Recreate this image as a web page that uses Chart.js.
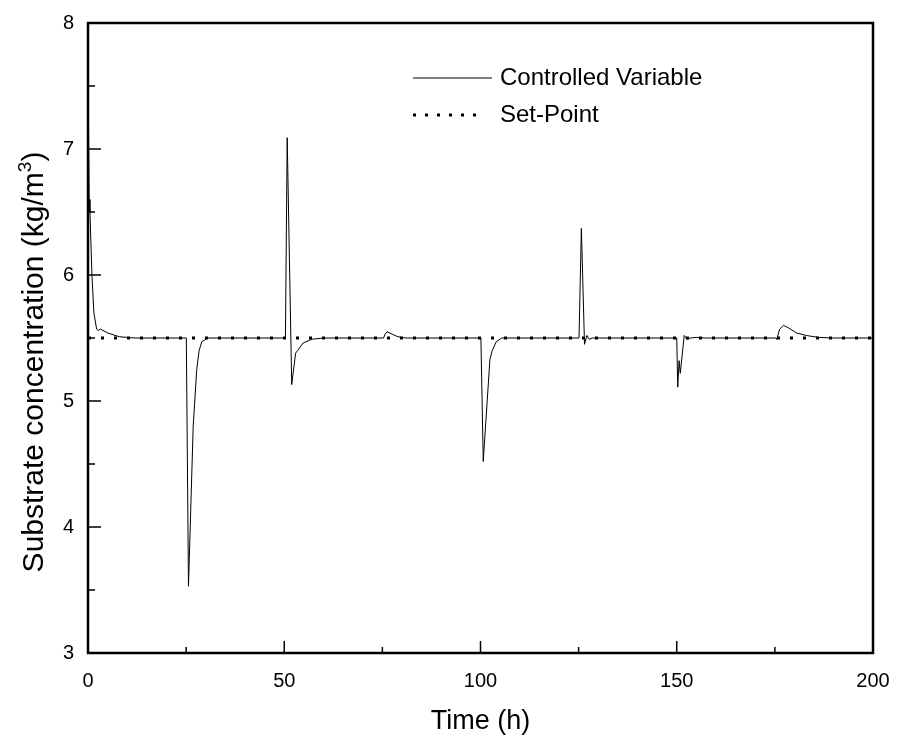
<!DOCTYPE html>
<html>
<head>
<meta charset="utf-8">
<title>Substrate concentration</title>
<script src="https://cdn.jsdelivr.net/npm/chart.js@4.4.1/dist/chart.umd.min.js"></script>
<style>
    body { margin: 0; background: #fff; }
    canvas { display: block; }
</style>
</head>
<body>
<canvas id="myChart" width="898" height="744"></canvas>
<script>
// time (h) and substrate concentration (kg/m3)
var timeH = [0, 0.3, 0.5, 1.0, 1.5, 2.2, 2.6, 3.2, 5, 8, 12,
    25.05, 25.6, 26.8, 27.7, 28.3, 29, 30.5,
    50.3, 50.75, 51.9, 52.9, 53.4, 54.8, 57, 60,
    75.3, 75.7, 76.2, 77.5, 79, 81,
    100.1, 100.7, 102.4, 103, 104, 105.4,
    125.1, 125.7, 126.5, 127.1, 127.7, 128.5,
    150.0, 150.25, 150.6, 150.9, 151.9, 152.6, 153.5, 155, 157,
    175.3, 175.5, 176.2, 177.2, 178.5, 180.5, 183, 186, 190, 200];
var controlled = [7.6, 6.6, 6.5, 6.0, 5.7, 5.57, 5.56, 5.57, 5.54, 5.51, 5.5,
    5.5, 3.53, 4.8, 5.25, 5.4, 5.47, 5.5,
    5.5, 7.09, 5.13, 5.38, 5.40, 5.46, 5.49, 5.5,
    5.5, 5.53, 5.55, 5.53, 5.51, 5.5,
    5.5, 4.52, 5.33, 5.40, 5.47, 5.5,
    5.5, 6.37, 5.45, 5.52, 5.49, 5.5,
    5.5, 5.11, 5.32, 5.22, 5.52, 5.49, 5.5, 5.505, 5.5,
    5.5, 5.49, 5.57, 5.60, 5.58, 5.54, 5.52, 5.505, 5.5, 5.5];
var setTime = [0, 200];
var setPoint = [5.5, 5.5];

var xTicks = [0, 50, 100, 150, 200];
var yTicks = [3, 4, 5, 6, 7, 8];

var FONT = "'Liberation Sans', Arial, sans-serif";

function toPoints(xs, ys) {
    return xs.map(function (x, i) { return {x: x, y: ys[i]}; });
}

// box, inward ticks, y title and the legend, drawn like the original plot
var frame = {
    id: 'frame',
    beforeDraw: function (chart) {
        var ctx = chart.ctx;
        ctx.save();
        ctx.fillStyle = '#fff';
        ctx.fillRect(0, 0, chart.width, chart.height);
        ctx.restore();
    },
    afterDraw: function (chart) {
        var ctx = chart.ctx, a = chart.chartArea;
        var xs = chart.scales.x, ys = chart.scales.y;
        ctx.save();
        ctx.strokeStyle = '#000';
        ctx.lineWidth = 2.5;
        ctx.strokeRect(a.left, a.top, a.right - a.left, a.bottom - a.top);

        ctx.lineWidth = 1.5;
        ctx.beginPath();
        for (var t = 0; t <= 200; t += 25) {
            var px = xs.getPixelForValue(t);
            var len = (t % 50 === 0) ? 12 : 6;
            ctx.moveTo(px, a.bottom);
            ctx.lineTo(px, a.bottom - len);
        }
        for (var v = 3; v <= 8; v += 0.5) {
            var py = ys.getPixelForValue(v);
            var l = (v % 1 === 0) ? 13 : 7;
            ctx.moveTo(a.left, py);
            ctx.lineTo(a.left + l, py);
        }
        ctx.stroke();

        // y title with a real superscript
        ctx.fillStyle = '#000';
        ctx.textBaseline = 'middle';
        ctx.translate(35, 362);
        ctx.rotate(-Math.PI / 2);
        var main = 'Substrate concentration (kg/m', sup = '3', end = ')';
        ctx.font = '30px ' + FONT;
        var w1 = ctx.measureText(main).width, w3 = ctx.measureText(end).width;
        ctx.font = '19px ' + FONT;
        var w2 = ctx.measureText(sup).width;
        var x0 = -(w1 + w2 + w3) / 2;
        ctx.font = '30px ' + FONT;
        ctx.fillText(main, x0, 0);
        ctx.fillText(end, x0 + w1 + w2, 0);
        ctx.font = '19px ' + FONT;
        ctx.fillText(sup, x0 + w1, -9);
        ctx.setTransform(1, 0, 0, 1, 0, 0);

        // legend
        ctx.lineWidth = 1;
        ctx.beginPath();
        ctx.moveTo(413, 78);
        ctx.lineTo(492, 78);
        ctx.stroke();
        ctx.lineWidth = 3;
        ctx.setLineDash([3, 9]);
        ctx.beginPath();
        ctx.moveTo(413, 115);
        ctx.lineTo(480, 115);
        ctx.stroke();
        ctx.setLineDash([]);
        ctx.font = '24px ' + FONT;
        ctx.fillText(chart.data.datasets[0].label, 500, 78);
        ctx.fillText(chart.data.datasets[1].label, 500, 115);
        ctx.restore();
    }
};

new Chart(document.getElementById("myChart"), {
    type: 'line',
    data: {
        datasets: [{
            label: "Controlled Variable",
            data: toPoints(timeH, controlled),
            borderColor: '#000',
            borderWidth: 1,
            pointRadius: 0,
            tension: 0
        }, {
            label: "Set-Point",
            data: toPoints(setTime, setPoint),
            borderColor: '#000',
            borderWidth: 3,
            borderDash: [3, 10],
            pointRadius: 0,
            tension: 0
        }]
    },
    options: {
        responsive: false,
        animation: false,
        layout: { padding: { top: 23, right: 25, left: 0, bottom: 0 } },
        plugins: {
            legend: { display: false },
            tooltip: { enabled: false }
        },
        scales: {
            x: {
                type: 'linear',
                min: 0,
                max: 200,
                afterBuildTicks: function (scale) {
                    scale.ticks = xTicks.map(function (v) { return {value: v}; });
                },
                afterFit: function (scale) {
                    scale.height = 91;
                    scale.paddingLeft = 0;
                    scale.paddingRight = 0;
                },
                grid: { display: false, drawTicks: false },
                border: { display: false },
                ticks: { color: '#000', padding: 16, maxRotation: 0, font: { family: FONT, size: 20 } },
                title: {
                    display: true,
                    text: 'Time (h)',
                    color: '#000',
                    font: { family: FONT, size: 27 },
                    padding: { top: 0, bottom: 6 }
                }
            },
            y: {
                type: 'linear',
                min: 3,
                max: 8,
                afterBuildTicks: function (scale) {
                    scale.ticks = yTicks.map(function (v) { return {value: v}; });
                },
                afterFit: function (scale) {
                    scale.width = 88;
                    scale.paddingTop = 0;
                    scale.paddingBottom = 0;
                },
                grid: { display: false, drawTicks: false },
                border: { display: false },
                ticks: { color: '#000', padding: 14, font: { family: FONT, size: 20 } }
            }
        }
    },
    plugins: [frame]
});
</script>
</body>
</html>
